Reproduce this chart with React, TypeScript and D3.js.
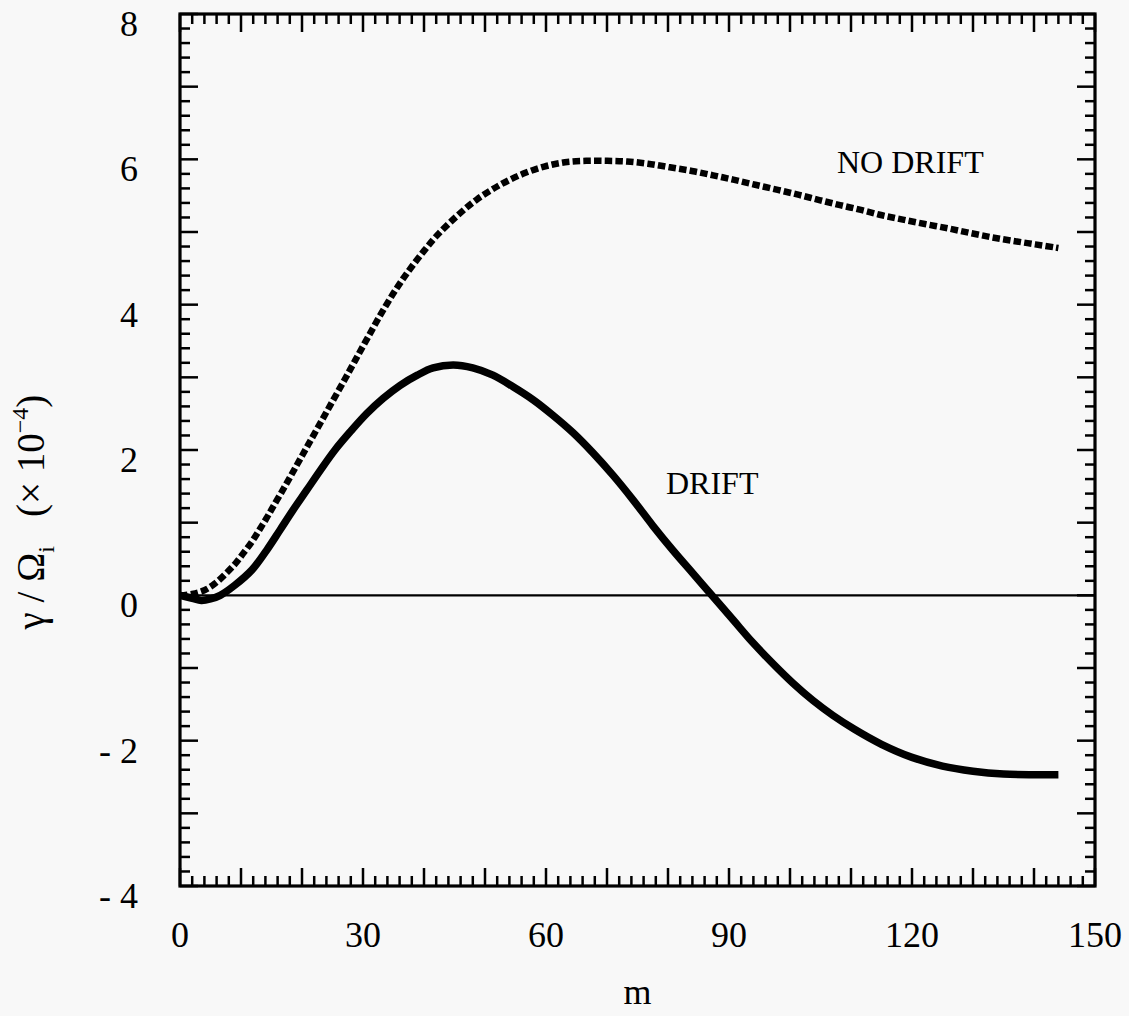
import React from "react";
import * as d3 from "d3";

// ---- Data ----
const mNoDrift = [0, 2, 4, 5.7, 7.4, 9, 10.3, 11.8, 13, 14.1, 15.2, 17.2, 19.2, 21, 23, 25, 27, 28.7, 30.8, 33, 35.4, 37.7, 40, 42.1, 45.4, 48.7, 52.5, 56.2, 59.7, 63.1, 66.6, 70, 73.3, 76.7, 80.3, 83.9, 87.4, 90.7, 94.3, 98, 101.5, 104.8, 108.2, 111.8, 115.1, 118.5, 122.1, 125.9, 129.3, 132.9, 136.4, 140.2, 144];
const gammaNoDrift = [0, 0.02, 0.07, 0.16, 0.29, 0.43, 0.57, 0.74, 0.9, 1.05, 1.21, 1.5, 1.8, 2.07, 2.37, 2.67, 2.97, 3.23, 3.55, 3.88, 4.21, 4.49, 4.74, 4.95, 5.22, 5.45, 5.65, 5.8, 5.9, 5.96, 5.98, 5.98, 5.97, 5.94, 5.89, 5.84, 5.78, 5.72, 5.65, 5.58, 5.51, 5.44, 5.37, 5.3, 5.23, 5.17, 5.11, 5.05, 4.99, 4.93, 4.88, 4.83, 4.78];

const mDrift = [0, 2, 3.5, 5, 6.6, 9, 11.8, 14.2, 16.4, 18.5, 20.8, 23, 25.4, 27.9, 30.6, 33.3, 36.1, 38.9, 41.5, 44.8, 48, 51.3, 54.6, 57.9, 61.1, 64.4, 67.7, 71, 74.3, 77.5, 80.8, 84.1, 87.4, 90.7, 93.9, 97.2, 100.5, 103.8, 107, 110.5, 115, 120, 125, 130, 135, 140, 144];
const gammaDrift = [0, -0.04, -0.07, -0.05, 0, 0.14, 0.35, 0.62, 0.9, 1.17, 1.45, 1.72, 2.0, 2.25, 2.5, 2.71, 2.89, 3.03, 3.13, 3.17, 3.13, 3.03, 2.87, 2.69, 2.48, 2.24, 1.96, 1.65, 1.31, 0.96, 0.62, 0.3, -0.02, -0.34, -0.65, -0.94, -1.21, -1.45, -1.65, -1.84, -2.05, -2.23, -2.35, -2.42, -2.46, -2.47, -2.47];

const xTickLabels = [0, 30, 60, 90, 120, 150];
const yTickLabels = [-4, -2, 0, 2, 4, 6, 8];

const labelNoDrift = "NO DRIFT";
const labelDrift = "DRIFT";

// ---- Layout ----
const W = 1129;
const H = 1016;
const L = 180, R = 1095, T = 14, B = 886;
const FONT = "'Liberation Serif', 'Times New Roman', Times, serif";

export default function App() {
  const x = d3.scaleLinear().domain([0, 150]).range([L, R]);
  const y = d3.scaleLinear().domain([-4, 8]).range([B, T]);

  const line = d3
    .line<[number, number]>()
    .x((d) => x(d[0]))
    .y((d) => y(d[1]))
    .curve(d3.curveCatmullRom.alpha(0.5));

  const noDriftPts: [number, number][] = mNoDrift.map((m, i) => [m, gammaNoDrift[i]]);
  const driftPts: [number, number][] = mDrift.map((m, i) => [m, gammaDrift[i]]);

  const xMinor = d3.range(0, 150.001, 2);
  const xMajor = d3.range(0, 150.001, 10);
  const yMinor = d3.range(-4, 8.0001, 0.2);
  const yMajor = d3.range(-4, 8.0001, 1);

  const isMajorY = (v: number) => Math.abs(v - Math.round(v)) < 1e-6;
  const isMajorX = (v: number) => Math.abs(v / 10 - Math.round(v / 10)) < 1e-6;

  const fmtY = (v: number) => (v < 0 ? `- ${Math.abs(v)}` : `${v}`);

  const tickStroke = 2.5;

  return (
    <div style={{ position: "fixed", left: 0, top: 0, width: W, height: H, background: "#f8f8f8" }}>
      <svg width={W} height={H} style={{ display: "block", fontFamily: FONT }}>
        <rect x={0} y={0} width={W} height={H} fill="#f8f8f8" />

        {/* x ticks, bottom and top, inward */}
        {xMinor.filter((v) => !isMajorX(v)).map((v) => (
          <g key={"xm" + v}>
            <line x1={x(v)} x2={x(v)} y1={B} y2={B - 10} stroke="#000" strokeWidth={tickStroke} />
            <line x1={x(v)} x2={x(v)} y1={T} y2={T + 10} stroke="#000" strokeWidth={tickStroke} />
          </g>
        ))}
        {xMajor.map((v) => (
          <g key={"xM" + v}>
            <line x1={x(v)} x2={x(v)} y1={B} y2={B - 18} stroke="#000" strokeWidth={tickStroke} />
            <line x1={x(v)} x2={x(v)} y1={T} y2={T + 18} stroke="#000" strokeWidth={tickStroke} />
          </g>
        ))}

        {/* y ticks, left and right, inward */}
        {yMinor.filter((v) => !isMajorY(v)).map((v, i) => (
          <g key={"ym" + i}>
            <line x1={L} x2={L + 10} y1={y(v)} y2={y(v)} stroke="#000" strokeWidth={tickStroke} />
            <line x1={R} x2={R - 10} y1={y(v)} y2={y(v)} stroke="#000" strokeWidth={tickStroke} />
          </g>
        ))}
        {yMajor.map((v) => (
          <g key={"yM" + v}>
            <line x1={L} x2={L + 18} y1={y(v)} y2={y(v)} stroke="#000" strokeWidth={tickStroke} />
            <line x1={R} x2={R - 18} y1={y(v)} y2={y(v)} stroke="#000" strokeWidth={tickStroke} />
          </g>
        ))}

        {/* zero line */}
        <line x1={x(0)} x2={x(150)} y1={y(0)} y2={y(0)} stroke="#000" strokeWidth={2.2} />

        {/* frame */}
        <rect x={L} y={T} width={R - L} height={B - T} fill="none" stroke="#000" strokeWidth={3.2} />

        {/* curves */}
        <path d={line(noDriftPts) || ""} fill="none" stroke="#000" strokeWidth={6.5} strokeDasharray="7.5 3.2" />
        <path d={line(driftPts) || ""} fill="none" stroke="#000" strokeWidth={7.5} />

        {/* tick labels */}
        {xTickLabels.map((v) => (
          <text key={"xl" + v} x={x(v)} y={947} fontSize={36} textAnchor="middle" fill="#000">
            {v}
          </text>
        ))}
        {yTickLabels.map((v) => (
          <text key={"yl" + v} x={138} y={y(v) + 22} fontSize={36} textAnchor="end" fill="#000" style={{ whiteSpace: "pre" }}>
            {fmtY(v)}
          </text>
        ))}

        {/* axis titles */}
        <text x={x(75)} y={1004} fontSize={36} textAnchor="middle" fill="#000">m</text>
        <text
          transform="translate(44,512) rotate(-90)"
          fontSize={39}
          textAnchor="middle"
          fill="#000"
          style={{ whiteSpace: "pre" }}
        >
          {"γ / Ω"}
          <tspan fontSize={24} dy={10}>i</tspan>
          <tspan dy={-10}>{"   (× 10"}</tspan>
          <tspan fontSize={24} dy={-16}>{"−4"}</tspan>
          <tspan dy={16}>)</tspan>
        </text>

        {/* annotations */}
        <text x={837} y={173} fontSize={32} fill="#000">{labelNoDrift}</text>
        <text x={666} y={494} fontSize={32} fill="#000">{labelDrift}</text>
      </svg>
    </div>
  );
}
